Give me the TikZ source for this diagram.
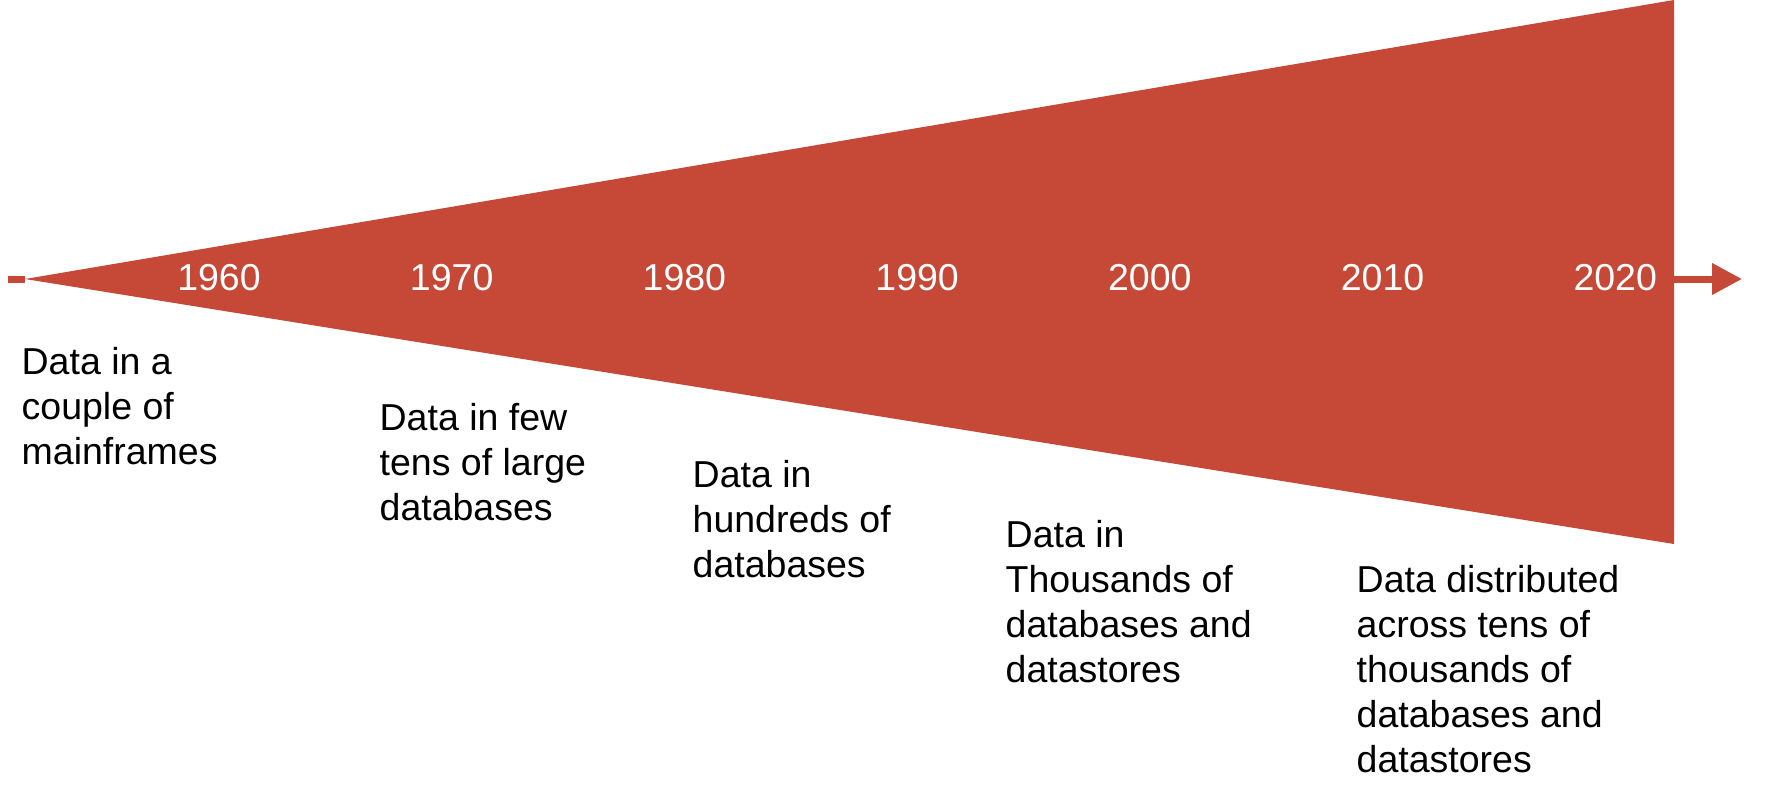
\documentclass[tikz,border=0pt]{standalone}
\usepackage{fontspec}
\setmainfont{Liberation Sans}
\usetikzlibrary{positioning, arrows.meta}
\definecolor{wedgered}{RGB}{198,72,54}

\begin{document}
\begin{tikzpicture}[x=0.3pt, y=-0.3pt,
    year/.style={text=white, inner sep=0pt, font=\fontsize{11.25}{13.5}\selectfont},
    era/.style={anchor=north west, align=left, inner sep=0pt, font=\fontsize{11.25}{13.5}\selectfont},
    axis/.style={wedgered, line width=2.1pt}]
    \useasboundingbox (0,0) rectangle (1770,804);

    % wedge and time axis
    \coordinate (start) at (8,279);
    \coordinate (apex) at (25,279);
    \coordinate (topr) at (1674,0);
    \coordinate (botr) at (1674,544);
    \coordinate (axisr) at (1674,279);
    \coordinate (tip) at (1742,279);
    \draw[axis] (start) -- (apex);
    \fill[wedgered] (apex) -- (topr) -- (botr) -- cycle;
    \draw[axis, -{Triangle[length=9pt, width=9pt]}] (axisr) -- (tip);

    % years
    \foreach \y [count=\i from 0] in {1960,1970,...,2020} {
        \node[year] (y\y) at ({219+\i*232.7},278) {\y};
    }

    % descriptions
    \node[era] (d1960) at (21,347) {Data in a\\couple of\\mainframes};
    \node[era] (d1970) at (379,403) {Data in few\\tens of large\\databases};
    \node[era] (d1980) at (692,460) {Data in\\hundreds of\\databases};
    \node[era] (d2000) at (1005,520) {Data in\\Thousands of\\databases and\\datastores};
    \node[era] (d2020) at (1356,565) {Data distributed\\across tens of\\thousands of\\databases and\\datastores};
\end{tikzpicture}
\end{document}
